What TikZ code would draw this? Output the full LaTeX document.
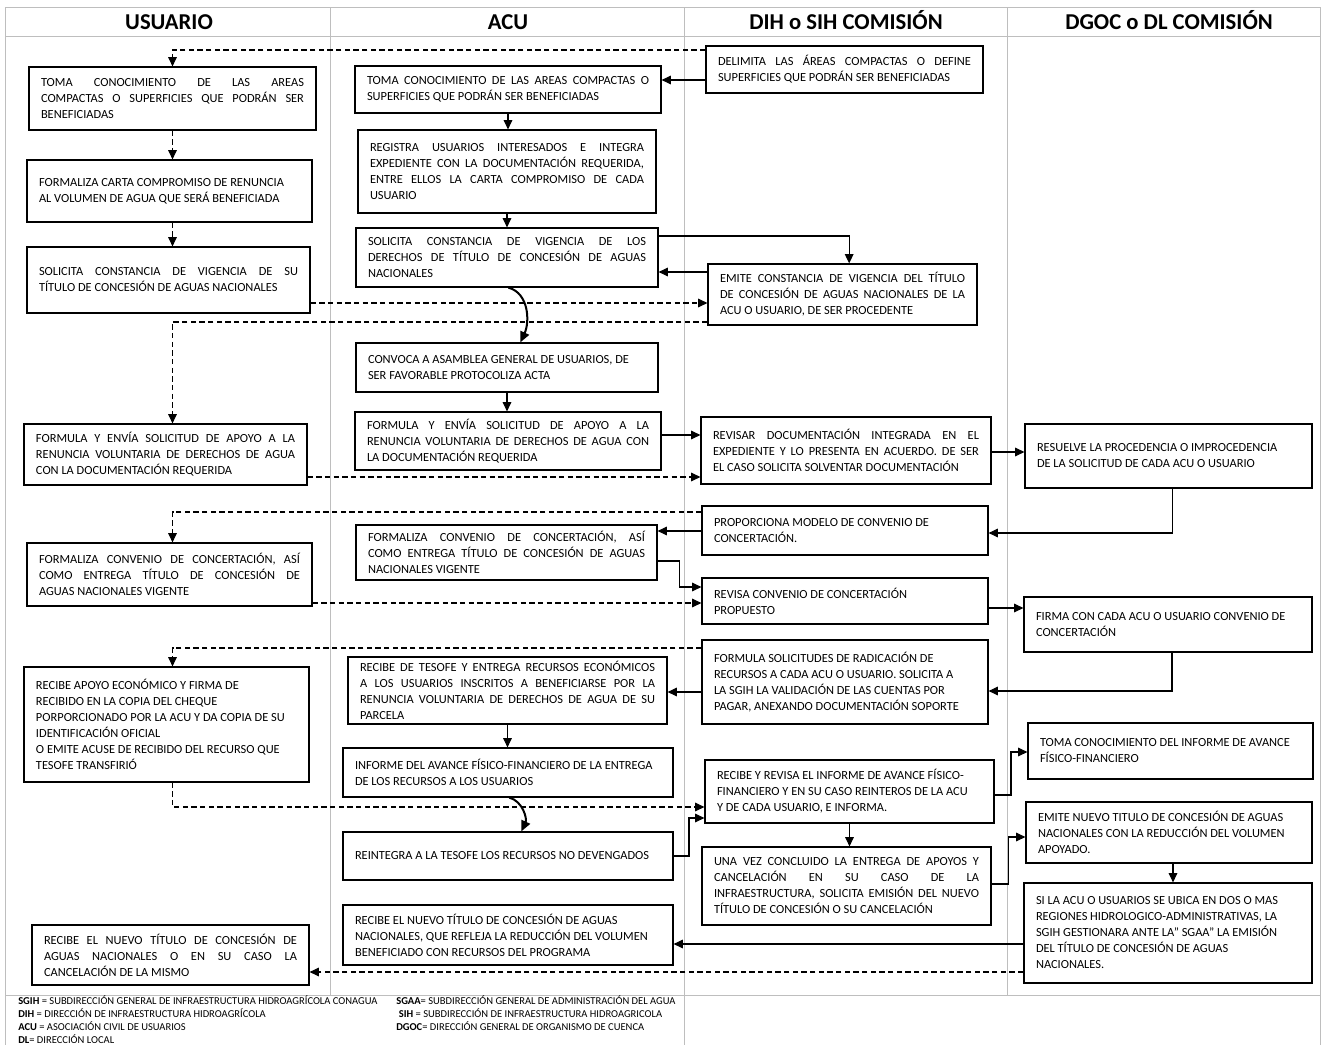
\documentclass[tikz,border=0pt]{standalone}
\usepackage{fontspec}
\setmainfont{Carlito}
\usetikzlibrary{arrows.meta,calc,positioning}
\hyphenpenalty=10000
\tolerance=10000
\hbadness=10000
\definecolor{gris}{RGB}{190,190,190}

\begin{document}
\begin{tikzpicture}[x=0.75pt,y=-0.75pt]
    \tikzstyle{every node}+=[inner sep=0pt]
    \tikzstyle{caja}=[draw=black, line width=0.9pt, fill=white, align=justify, inner xsep=9pt, font=\fontsize{9.3}{12}\selectfont]
    \tikzstyle{flecha}=[black, line width=0.8pt, -{Triangle[length=7pt,width=6.5pt]}]
    \tikzstyle{punteada}=[flecha, dash pattern=on 4pt off 2.5pt]
    \tikzstyle{curva}=[black, line width=1.5pt, -{Triangle[length=8pt,width=7pt]}]
    \tikzstyle{titulo}=[anchor=base, font=\fontsize{17}{20}\selectfont\bfseries]
    \tikzstyle{ley}=[anchor=north west, align=left, font=\fontsize{7.9}{9.75}\selectfont]
    \useasboundingbox (0,0) rectangle (1321,1045);
    \draw [gris, line width=0.75pt] (5,1045) -- (5,8) -- (1320,8) -- (1320,1045);
    \draw [gris, line width=0.75pt] (5,37) -- (1320,37);
    \draw [gris, line width=0.75pt] (5,995) -- (1320,995);
    \draw [gris, line width=0.75pt] (330,8) -- (330,995);
    \draw [gris, line width=0.75pt] (684,8) -- (684,1045);
    \draw [gris, line width=0.75pt] (1007,8) -- (1007,995);
    \node [titulo] (tusuario) at (169,30) {USUARIO};
    \node [titulo] (tacu) at (508,30) {ACU};
    \node [titulo] (tdih) at (846,30) {DIH o SIH COMISIÓN};
    \node [titulo] (tdgoc) at (1169,30) {DGOC o DL COMISIÓN};

    \node [caja, text width=197.25pt, minimum height=47.25pt] (u1) at (172.5,98.5) {TOMA CONOCIMIENTO DE LAS AREAS\linebreak COMPACTAS O SUPERFICIES QUE PODRÁN SER\linebreak BENEFICIADAS};
    \node [caja, text width=195.75pt, minimum height=46.5pt] (u2) at (169.5,191) {FORMALIZA CARTA COMPROMISO DE RENUNCIA\\ AL VOLUMEN DE AGUA QUE SERÁ BENEFICIADA};
    \node [caja, text width=194.25pt, minimum height=49.5pt] (u3) at (168.5,280) {SOLICITA CONSTANCIA DE VIGENCIA DE SU\linebreak TÍTULO DE CONCESIÓN DE AGUAS NACIONALES};
    \node [caja, text width=194.25pt, minimum height=45.75pt] (u4) at (165.5,454.5) {FORMULA Y ENVÍA SOLICITUD DE APOYO A LA\linebreak RENUNCIA VOLUNTARIA DE DERECHOS DE AGUA\linebreak CON LA DOCUMENTACIÓN REQUERIDA};
    \node [caja, text width=195.75pt, minimum height=47.25pt] (u5) at (169.5,574.5) {FORMALIZA CONVENIO DE CONCERTACIÓN, ASÍ\linebreak COMO ENTREGA TÍTULO DE CONCESIÓN DE\linebreak AGUAS NACIONALES VIGENTE};
    \node [caja, text width=195.75pt, minimum height=86.25pt] (u6) at (166.5,724.5) {RECIBE APOYO ECONÓMICO Y FIRMA DE\\ RECIBIDO EN LA COPIA DEL CHEQUE\\ PORPORCIONADO POR LA ACU Y DA COPIA DE SU\\ IDENTIFICACIÓN OFICIAL\\ O EMITE ACUSE DE RECIBIDO DEL RECURSO QUE\\ TESOFE TRANSFIRIÓ};
    \node [caja, text width=189.75pt, minimum height=45pt] (u7) at (170.5,955) {RECIBE EL NUEVO TÍTULO DE CONCESIÓN DE\linebreak AGUAS NACIONALES O EN SU CASO LA\linebreak CANCELACIÓN DE LA MISMO};

    \node [caja, text width=211.5pt, minimum height=35.25pt] (a1) at (508,89.5) {TOMA CONOCIMIENTO DE LAS AREAS COMPACTAS O\linebreak SUPERFICIES QUE PODRÁN SER BENEFICIADAS};
    \node [caja, text width=205.5pt, minimum height=62.25pt] (a2) at (507,171.5) {REGISTRA USUARIOS INTERESADOS E INTEGRA\linebreak EXPEDIENTE CON LA DOCUMENTACIÓN REQUERIDA,\linebreak ENTRE ELLOS LA CARTA COMPROMISO DE CADA\linebreak USUARIO};
    \node [caja, text width=208.5pt, minimum height=44.25pt] (a3) at (507,257.5) {SOLICITA CONSTANCIA DE VIGENCIA DE LOS\linebreak DERECHOS DE TÍTULO DE CONCESIÓN DE AGUAS\linebreak NACIONALES};
    \node [caja, text width=208.5pt, minimum height=36.75pt] (a4) at (507,367.5) {CONVOCA A ASAMBLEA GENERAL DE USUARIOS, DE\\ SER FAVORABLE PROTOCOLIZA ACTA};
    \node [caja, text width=211.5pt, minimum height=43.5pt] (a5) at (508,441) {FORMULA Y ENVÍA SOLICITUD DE APOYO A LA\linebreak RENUNCIA VOLUNTARIA DE DERECHOS DE AGUA CON\linebreak LA DOCUMENTACIÓN REQUERIDA};
    \node [caja, text width=207.75pt, minimum height=41.25pt] (a6) at (506.5,552.5) {FORMALIZA CONVENIO DE CONCERTACIÓN, ASÍ\linebreak COMO ENTREGA TÍTULO DE CONCESIÓN DE AGUAS\linebreak NACIONALES VIGENTE};
    \node [caja, text width=221.25pt, minimum height=50.25pt] (a7) at (507.5,690.5) {RECIBE DE TESOFE Y ENTREGA RECURSOS ECONÓMICOS\linebreak A LOS USUARIOS INSCRITOS A BENEFICIARSE POR LA\linebreak RENUNCIA VOLUNTARIA DE DERECHOS DE AGUA DE SU\linebreak PARCELA};
    \node [caja, text width=229.5pt, minimum height=36.75pt] (a8) at (508,772.5) {INFORME DEL AVANCE FÍSICO-FINANCIERO DE LA ENTREGA\\ DE LOS RECURSOS A LOS USUARIOS};
    \node [caja, text width=229.5pt, minimum height=36pt] (a9) at (508,856) {REINTEGRA A LA TESOFE LOS RECURSOS NO DEVENGADOS};
    \node [caja, text width=229.5pt, minimum height=45pt] (a10) at (508,935) {RECIBE EL NUEVO TÍTULO DE CONCESIÓN DE AGUAS\\ NACIONALES, QUE REFLEJA LA REDUCCIÓN DEL VOLUMEN\\ BENEFICIADO CON RECURSOS DEL PROGRAMA};

    \node [caja, text width=189.75pt, minimum height=35.25pt] (d1) at (844.5,69.5) {DELIMITA LAS ÁREAS COMPACTAS O DEFINE\linebreak SUPERFICIES QUE PODRÁN SER BENEFICIADAS};
    \node [caja, text width=183.75pt, minimum height=45.75pt] (d2) at (842.5,294.5) {EMITE CONSTANCIA DE VIGENCIA DEL TÍTULO\linebreak DE CONCESIÓN DE AGUAS NACIONALES DE LA\linebreak ACU O USUARIO, DE SER PROCEDENTE};
    \node [caja, text width=199.5pt, minimum height=50.25pt] (d3) at (846,450.5) {REVISAR DOCUMENTACIÓN INTEGRADA EN EL\linebreak EXPEDIENTE Y LO PRESENTA EN ACUERDO. DE SER\linebreak EL CASO SOLICITA SOLVENTAR DOCUMENTACIÓN};
    \node [caja, text width=196.5pt, minimum height=36.75pt] (d4) at (845,530.5) {PROPORCIONA MODELO DE CONVENIO DE\\ CONCERTACIÓN.};
    \node [caja, text width=196.5pt, minimum height=34.5pt] (d5) at (845,601) {REVISA CONVENIO DE CONCERTACIÓN\\ PROPUESTO};
    \node [caja, text width=196.5pt, minimum height=63pt] (d6) at (845,682) {FORMULA SOLICITUDES DE RADICACIÓN DE\\ RECURSOS A CADA ACU O USUARIO. SOLICITA A\\ LA SGIH LA VALIDACIÓN DE LAS CUENTAS POR\\ PAGAR, ANEXANDO DOCUMENTACIÓN SOPORTE};
    \node [caja, text width=198.75pt, minimum height=47.25pt] (d7) at (849.5,791.5) {RECIBE Y REVISA EL INFORME DE AVANCE FÍSICO-\\ FINANCIERO Y EN SU CASO REINTEROS DE LA ACU\\ Y DE CADA USUARIO, E INFORMA.};
    \node [caja, text width=198.75pt, minimum height=58.5pt] (d8) at (846.5,886) {UNA VEZ CONCLUIDO LA ENTREGA DE APOYOS Y\linebreak CANCELACIÓN EN SU CASO DE LA\linebreak INFRAESTRUCTURA, SOLICITA EMISIÓN DEL NUEVO\linebreak TÍTULO DE CONCESIÓN O SU CANCELACIÓN};

    \node [caja, text width=197.25pt, minimum height=48pt] (g1) at (1168.5,456) {RESUELVE LA PROCEDENCIA O IMPROCEDENCIA\\ DE LA SOLICITUD DE CADA ACU O USUARIO};
    \node [caja, text width=198pt, minimum height=41.25pt] (g2) at (1168,624.5) {FIRMA CON CADA ACU O USUARIO CONVENIO DE\\ CONCERTACIÓN};
    \node [caja, text width=195.75pt, minimum height=42pt] (g3) at (1170.5,751) {TOMA CONOCIMIENTO DEL INFORME DE AVANCE\\ FÍSICO-FINANCIERO};
    \node [caja, text width=196.5pt, minimum height=45.75pt] (g4) at (1169,832.5) {EMITE NUEVO TITULO DE CONCESIÓN DE AGUAS\\ NACIONALES CON LA REDUCCIÓN DEL VOLUMEN\\ APOYADO.};
    \node [caja, text width=198pt, minimum height=75pt] (g5) at (1168,933) {SI LA ACU O USUARIOS SE UBICA EN DOS O MAS\\ REGIONES HIDROLOGICO-ADMINISTRATIVAS, LA\\ SGIH GESTIONARA ANTE LA” SGAA” LA EMISIÓN\\ DEL TÍTULO DE CONCESIÓN DE AGUAS\\ NACIONALES.};

    \draw [flecha] (d1.west |- 0,80) -- (a1.east |- 0,80);
    \draw [punteada] (d1.west |- 0,50) -| (u1.north);
    \draw [flecha] (a1.south) -- (a1.south |- a2.north);
    \draw [flecha] (a2.south) -- (a2.south |- a3.north);
    \draw [punteada] (u1.south) -- (u1.south |- u2.north);
    \draw [punteada] (u2.south -| u1.south) -- (u3.north -| u1.south);
    \draw [flecha] (a3.east |- 0,236) -| ([xshift=5pt]d2.north);
    \draw [flecha] (d2.west |- 0,272) -- (a3.east |- 0,272);
    \draw [punteada] (u3.east |- 0,303) -- (d2.west |- 0,303);
    \draw [punteada] (d2.west |- 0,322) -| (u4.north -| u1.south);
    \draw [curva] ([xshift=1pt]a3.south) to[out=-15,in=65] ([xshift=10pt]a4.north);
    \draw [flecha] (a4.south) -- (a4.south |- a5.north);
    \draw [flecha] (a5.east |- 0,435) -- (d3.west |- 0,435);
    \draw [punteada] (u4.east |- 0,477) -- (d3.west |- 0,477);
    \draw [flecha] (d3.east |- 0,452) -- (g1.west |- 0,452);
    \draw [flecha] ([xshift=3pt]g1.south) |- (d4.east |- 0,533);
    \draw [flecha] (d4.west |- 0,531) -- (a6.east |- 0,531);
    \draw [punteada] (d4.west |- 0,512) -| (u5.north -| u1.south);
    \draw [flecha] (a6.east |- 0,561) -| ($(a6.east)!.5!(d5.west)$) |- (d5.west |- 0,587);
    \draw [punteada] (u5.east |- 0,603) -- (d5.west |- 0,603);
    \draw [flecha] (d5.east |- 0,608) -- (g2.west |- 0,608);
    \draw [flecha] ([xshift=3pt]g2.south) |- (d6.east |- 0,691);
    \draw [flecha] (d6.west |- 0,692) -- (a7.east |- 0,692);
    \draw [punteada] (d6.west |- 0,648) -| (u6.north -| u1.south);
    \draw [flecha] (a7.south) -- (a7.south |- a8.north);
    \draw [punteada] (u6.south -| u1.south) |- (d7.west |- 0,807);
    \draw [curva] ([xshift=1pt]a8.south) to[out=-15,in=65] ([xshift=10pt]a9.north);
    \draw [flecha] (a9.east) -| ($(a9.east)!.5!(d7.south west)$) |- (d7.west |- 0,818);
    \draw [flecha] (d7.east |- 0,795) -| ($(d7.east)!.5!(g3.west)$) |- (g3.west |- 0,752);
    \draw [flecha] (d7.south) -- (d7.south |- d8.north);
    \draw [flecha] (d8.east |- 0,884) -| ($(d8.east)!.5!(g4.west)$) |- (g4.west |- 0,837);
    \draw [flecha] ([xshift=3pt]g4.south) -- ([xshift=3pt]g4.south |- g5.north);
    \draw [flecha] (g5.west |- 0,944) -- (a10.east |- 0,944);
    \draw [punteada] (g5.west |- 0,972) -- (u7.east |- 0,972);

    \node [ley] (leyizq) at (18,995) {\textbf{SGIH} = SUBDIRECCIÓN GENERAL DE INFRAESTRUCTURA HIDROAGRÍCOLA CONAGUA\\ \textbf{DIH} = DIRECCIÓN DE INFRAESTRUCTURA HIDROAGRÍCOLA\\ \textbf{ACU} = ASOCIACIÓN CIVIL DE USUARIOS\\ \textbf{DL}= DIRECCIÓN LOCAL};
    \node [ley] (leyder) at (396,995) {\textbf{SGAA}= SUBDIRECCIÓN GENERAL DE ADMINISTRACIÓN DEL AGUA\\ \hspace*{2pt}\textbf{SIH} = SUBDIRECCIÓN DE INFRAESTRUCTURA HIDROAGRICOLA\\ \textbf{DGOC}= DIRECCIÓN GENERAL DE ORGANISMO DE CUENCA};
\end{tikzpicture}
\end{document}
